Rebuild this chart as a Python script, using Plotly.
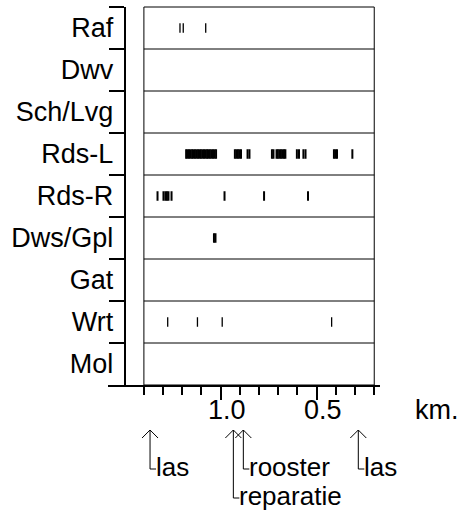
import plotly.graph_objects as go

# ---------------- data ----------------
categories = ["Raf", "Dwv", "Sch/Lvg", "Rds-L", "Rds-R", "Dws/Gpl", "Gat", "Wrt", "Mol"]

raf_km = [1.212, 1.195, 1.078]
dwv_km = []
schlvg_km = []
rdsl_km = [1.180, 1.173, 1.165, 1.157, 1.149, 1.142, 1.134, 1.126, 1.118, 1.110,
           1.103, 1.095, 1.087, 1.079, 1.071, 1.064, 1.056, 1.048, 1.040, 1.032, 1.024,
           0.926, 0.918, 0.910, 0.902, 0.894,
           0.860, 0.850,
           0.733, 0.725,
           0.709, 0.702, 0.694, 0.686, 0.678, 0.670, 0.663,
           0.603, 0.592,
           0.569, 0.558,
           0.410, 0.402, 0.394,
           0.314]
rdsr_km = [1.329, 1.298, 1.288, 1.280, 1.272, 1.256, 0.980, 0.774, 0.545]
dwsgpl_km = [1.035, 1.027]
gat_km = []
wrt_km = [1.276, 1.121, 0.992, 0.422]
mol_km = []

series = [raf_km, dwv_km, schlvg_km, rdsl_km, rdsr_km, dwsgpl_km, gat_km, wrt_km, mol_km]

event_labels = ["las", "reparatie", "rooster", "las"]
event_km = [1.368, 0.934, 0.882, 0.283]

major_tick_vals = [1.0, 0.5]
major_tick_text = ["1.0", "0.5"]
minor_tick_vals = [1.4, 1.3, 1.2, 1.1, 0.9, 0.8, 0.7, 0.6, 0.4, 0.3, 0.2]
box_left_km, box_right_km = 1.4, 0.2
yaxis_km = 1.5
x_range = [1.587, 0.170]
unit_label = "km."

# ---------------- figure ----------------
FONT = "Liberation Sans, Arial, sans-serif"
FS = 27
FS_EV = 26
W, H = 473, 518
ML, MR, MT, MB = 108, 93, 7, 133
plot_h = H - MT - MB
thin = {"Raf", "Wrt"}

fig = go.Figure()
for cat, vals in zip(categories, series):
    fig.add_trace(go.Scatter(
        x=vals, y=[cat] * len(vals), mode="markers",
        marker=dict(symbol="line-ns", size=6.8,
                    line=dict(color="black", width=1.3 if cat in thin else 2)),
        showlegend=False, hoverinfo="x+y"))

def px_to_paper_y(p):
    return (H - MB - p) / plot_h

shapes = []
shapes.append(dict(type="rect", xref="x", yref="paper",
                   x0=box_left_km, x1=box_right_km, y0=0, y1=1,
                   line=dict(color="black", width=1), layer="below"))
n = len(categories)
for k in range(1, n):
    shapes.append(dict(type="line", xref="x", yref="paper",
                       x0=box_left_km, x1=box_right_km, y0=k / n, y1=k / n,
                       line=dict(color="black", width=1), layer="below"))

annotations = []
for v, t in zip(major_tick_vals, major_tick_text):
    annotations.append(dict(x=v, xref="x", y=px_to_paper_y(410), yref="paper",
                            text=t, showarrow=False, xanchor="center",
                            yanchor="middle", xshift=6,
                            font=dict(family=FONT, size=FS, color="black")))

tip_y = px_to_paper_y(430)
for lab, km in zip(event_labels, event_km):
    stem = 68 if lab == "reparatie" else 39
    shapes.append(dict(type="path", xref="x", yref="paper",
                       xsizemode="pixel", ysizemode="pixel",
                       xanchor=km, yanchor=tip_y,
                       path=f"M-8,-8L0,0L8,-8M0,0V-{stem}H6",
                       line=dict(color="black", width=1)))
    annotations.append(dict(x=km, xref="x", y=px_to_paper_y(430 + stem - 2),
                            yref="paper", text=lab, showarrow=False,
                            xanchor="left", yanchor="middle", xshift=4,
                            font=dict(family=FONT, size=FS_EV, color="black")))

annotations.append(dict(x=(413 - ML) / (W - ML - MR), xref="paper",
                        y=px_to_paper_y(410), yref="paper", text=unit_label,
                        showarrow=False, xanchor="left", yanchor="middle",
                        font=dict(family=FONT, size=FS, color="black")))

fig.update_layout(
    width=W, height=H, autosize=False,
    margin=dict(l=ML, r=MR, t=MT, b=MB, pad=0),
    paper_bgcolor="white", plot_bgcolor="white",
    font=dict(family=FONT, size=FS, color="black"),
    xaxis=dict(range=x_range, domain=[0, 1], showgrid=False, zeroline=False,
               showline=True, linecolor="black", linewidth=2,
               ticks="outside", ticklen=13, tickwidth=2, tickcolor="black",
               tickmode="array", tickvals=major_tick_vals, showticklabels=False,
               minor=dict(tickmode="array", tickvals=minor_tick_vals, ticks="outside",
                          ticklen=8, tickwidth=2, tickcolor="black", showgrid=False)),
    yaxis=dict(type="category", categoryorder="array", categoryarray=categories,
               range=[n - 0.5, -0.5], tickson="boundaries",
               anchor="free", position=(x_range[0] - yaxis_km) / (x_range[0] - x_range[1]),
               showgrid=False, zeroline=False, showline=True, linecolor="black",
               linewidth=2, ticks="outside", ticklen=15, tickwidth=2, tickcolor="black",
               ticklabelstandoff=5,
               tickfont=dict(family=FONT, size=FS, color="black")),
    shapes=shapes, annotations=annotations,
)

fig.write_html("out.html", config={"displayModeBar": False},
               post_script="document.body.style.margin='0';document.body.style.overflow='hidden';")
